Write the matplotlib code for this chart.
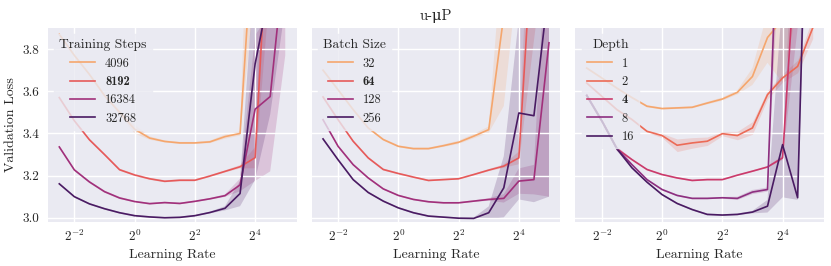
import matplotlib
matplotlib.use("Agg")
import numpy as np
import matplotlib.pyplot as plt
from matplotlib.lines import Line2D
from matplotlib.ticker import NullLocator
from matplotlib.font_manager import FontProperties

# ---------------- data ----------------
lr_exp = [-2.5, -2, -1.5, -1, -0.5, 0, 0.5, 1, 1.5, 2, 2.5, 3, 3.5, 4, 4.5, 5]

# Panel 1: training steps
steps_labels = ["4096", "8192", "16384", "32768"]
steps_mean = [
    [3.87, 3.77, 3.68, 3.58, 3.50, 3.42, 3.378, 3.362, 3.355, 3.355, 3.36, 3.385, 3.40, 4.5, 7.0, 7.0],
    [3.57, 3.46, 3.37, 3.30, 3.228, 3.203, 3.185, 3.173, 3.178, 3.178, 3.198, 3.22, 3.242, 3.285, 4.6, 6.0],
    [3.336, 3.227, 3.17, 3.124, 3.094, 3.077, 3.067, 3.072, 3.068, 3.078, 3.09, 3.105, 3.156, 3.515, 3.575, 4.27],
    [3.161, 3.10, 3.066, 3.043, 3.024, 3.01, 3.004, 3.0, 3.002, 3.01, 3.025, 3.045, 3.115, 3.73, 4.09, 4.5],
]
steps_err_lo = [
    [.004, .004, .004, .004, .01, .02, .008, .005, .005, .005, .006, .01, .01, .4, .5, .5],
    [.005, .005, .005, .005, .005, .005, .005, .005, .005, .005, .005, .005, .008, .05, .5, .5],
    [.005, .005, .005, .005, .005, .004, .004, .004, .004, .004, .004, .006, .03, .34, .355, .5],
    [.004, .004, .004, .004, .004, .004, .004, .004, .004, .004, .004, .01, .06, .55, .6, .5],
]
steps_err_hi = [
    [.004, .004, .004, .004, .01, .02, .008, .005, .005, .005, .006, .01, .01, 1.0, .5, .5],
    [.005, .005, .005, .005, .005, .005, .005, .005, .005, .005, .005, .005, .008, .05, .5, .5],
    [.005, .005, .005, .005, .005, .004, .004, .004, .004, .004, .004, .006, .03, .35, .4, .5],
    [.004, .004, .004, .004, .004, .004, .004, .004, .004, .004, .004, .01, .06, .5, .5, .5],
]

# Panel 2: batch size
bs_labels = ["32", "64", "128", "256"]
bs_mean = [
    [3.70, 3.607, 3.513, 3.426, 3.371, 3.339, 3.328, 3.328, 3.342, 3.358, 3.387, 3.418, 3.96, 5.0, 6.0, 6.5],
    [3.573, 3.465, 3.363, 3.284, 3.229, 3.21, 3.193, 3.177, 3.181, 3.185, 3.205, 3.226, 3.245, 3.284, 4.44, 5.0],
    [3.465, 3.339, 3.252, 3.189, 3.137, 3.106, 3.087, 3.076, 3.071, 3.071, 3.079, 3.087, 3.092, 3.174, 3.181, 3.83],
    [3.374, 3.275, 3.181, 3.12, 3.079, 3.047, 3.024, 3.008, 3.003, 2.998, 2.997, 3.024, 3.142, 3.497, 3.484, 4.1],
]
bs_err_lo = [
    [.005, .005, .005, .005, .005, .005, .005, .005, .006, .008, .01, .015, .43, .8, .8, .8],
    [.005, .005, .005, .005, .005, .004, .004, .004, .004, .004, .004, .005, .008, .03, .6, .6],
    [.005, .005, .004, .004, .004, .004, .004, .004, .004, .004, .004, .006, .02, .06, .07, .73],
    [.005, .005, .004, .004, .004, .004, .004, .004, .004, .004, .004, .03, .14, .41, .41, 1.0],
]
bs_err_hi = [
    [.005, .005, .005, .005, .005, .005, .005, .005, .006, .008, .01, .015, .4, .8, .8, .8],
    [.005, .005, .005, .005, .005, .004, .004, .004, .004, .004, .004, .005, .008, .03, .6, .6],
    [.005, .005, .004, .004, .004, .004, .004, .004, .004, .004, .004, .006, .02, .06, .07, .7],
    [.005, .005, .004, .004, .004, .004, .004, .004, .004, .004, .004, .03, .15, .45, .5, 1.0],
]

# Panel 3: depth
depth_labels = ["1", "2", "4", "8", "16"]
depth_mean = [
    [3.71, 3.663, 3.615, 3.57, 3.529, 3.518, 3.521, 3.524, 3.544, 3.563, 3.595, 3.67, 3.855, 3.94, 4.3, 4.6],
    [3.639, 3.576, 3.513, 3.466, 3.41, 3.39, 3.344, 3.355, 3.363, 3.399, 3.39, 3.426, 3.584, 3.663, 3.718, 3.90],
    [3.58, 3.46, 3.328, 3.276, 3.229, 3.205, 3.189, 3.177, 3.181, 3.181, 3.202, 3.221, 3.241, 3.284, 4.4, 5.0],
    [3.58, 3.46, 3.328, 3.252, 3.181, 3.134, 3.106, 3.092, 3.092, 3.095, 3.092, 3.122, 3.134, 5.05, 5.5, 5.5],
    [3.58, 3.46, 3.328, 3.237, 3.169, 3.11, 3.068, 3.039, 3.016, 3.013, 3.016, 3.027, 3.055, 3.347, 3.095, 5.7],
]
depth_err_lo = [
    [.005, .005, .005, .005, .005, .005, .005, .005, .006, .008, .01, .04, .12, .3, .3, .3],
    [.005, .005, .005, .005, .005, .01, .03, .025, .02, .01, .02, .03, .02, .02, .03, .05],
    [.01, .01, .01, .004, .004, .004, .004, .004, .004, .004, .004, .004, .004, .01, .5, .5],
    [.01, .01, .01, .004, .004, .004, .004, .004, .004, .004, .008, .01, .01, .5, .5, .5],
    [.01, .01, .01, .004, .004, .004, .004, .004, .004, .004, .004, .006, .03, .25, .01, .5],
]
depth_err_hi = [
    [.005, .005, .005, .005, .005, .005, .005, .005, .006, .008, .01, .04, .12, .3, .3, .3],
    [.005, .005, .005, .005, .005, .01, .03, .025, .02, .01, .02, .03, .02, .02, .03, .05],
    [.01, .01, .01, .004, .004, .004, .004, .004, .004, .004, .004, .004, .004, .01, .5, .5],
    [.01, .01, .01, .004, .004, .004, .004, .004, .004, .004, .008, .01, .01, .5, .5, .5],
    [.01, .01, .01, .004, .004, .004, .004, .004, .004, .004, .004, .006, .03, .7, .9, .5],
]

colors4 = ["#f5a66d", "#e65a5a", "#a1307b", "#4a1b63"]
colors5 = ["#f5a66d", "#ec6b57", "#cb3a6b", "#8d2f80", "#4a1b63"]

panels = [
    ("Training Steps", steps_labels, steps_mean, steps_err_lo, steps_err_hi, colors4, 1),
    ("Batch Size", bs_labels, bs_mean, bs_err_lo, bs_err_hi, colors4, 1),
    ("Depth", depth_labels, depth_mean, depth_err_lo, depth_err_hi, colors5, 2),
]

# ---------------- style ----------------
plt.rcParams.update({
    "font.family": "serif",
    "font.serif": ["cmr10"],
    "mathtext.fontset": "cm",
    "axes.formatter.use_mathtext": True,
    "axes.unicode_minus": False,
    "axes.facecolor": "#EAEAF2",
    "axes.edgecolor": "white",
    "axes.grid": True,
    "grid.color": "white",
    "grid.linewidth": 1.0,
    "text.color": "#262626",
    "axes.labelcolor": "#262626",
    "xtick.color": "#262626",
    "ytick.color": "#262626",
    "xtick.major.size": 0,
    "ytick.major.size": 0,
    "xtick.minor.size": 0,
    "ytick.minor.size": 0,
    "xtick.major.pad": 4.5,
    "ytick.major.pad": 6.0,
    "xtick.labelsize": 9.5,
    "ytick.labelsize": 9.5,
    "axes.labelsize": 10,
})

fig, axes = plt.subplots(1, 3, figsize=(8.31, 2.66), dpi=100, sharey=True)
fig.subplots_adjust(left=48 / 831, right=824 / 831, top=1 - 28 / 266, bottom=1 - 222 / 266, wspace=0.061)

lr = 2.0 ** np.array(lr_exp)
bold_fp = FontProperties(family="cmb10", size=9)

for ax, (title, labels, means, lo, hi, cols, bold_idx) in zip(axes, panels):
    handles = []
    for lab, m, el, eh, c in zip(labels, means, lo, hi, cols):
        m = np.array(m)
        ax.fill_between(lr, m - np.array(el), m + np.array(eh), color=c, alpha=0.2, linewidth=0)
        ax.plot(lr, m, color=c, lw=1.2)
        handles.append(Line2D([], [], color=c, lw=1.2))
    for s in ax.spines.values():
        s.set_visible(False)
    ax.set_xscale("log", base=2)
    ax.set_xlim(2 ** -2.875, 2 ** 5.375)
    ax.set_ylim(2.98, 3.9)
    ax.set_xticks([2 ** -2, 2 ** 0, 2 ** 2, 2 ** 4])
    ax.set_xticklabels([r"$2^{-2}$", r"$2^{0}$", r"$2^{2}$", r"$2^{4}$"])
    ax.xaxis.set_minor_locator(NullLocator())
    ax.set_yticks([3.0, 3.2, 3.4, 3.6, 3.8])
    ax.set_xlabel("Learning Rate")
    ax.tick_params(axis="both", which="both", length=0)
    leg = ax.legend(handles, labels, title=title, loc="upper left", fontsize=9,
                    title_fontsize=9.7, framealpha=0.8, facecolor="#EAEAF2",
                    edgecolor="#EAEAF2")
    leg.get_texts()[bold_idx].set_fontproperties(bold_fp)

axes[0].set_ylabel("Validation Loss")
axes[0].set_yticklabels(["3.0", "3.2", "3.4", "3.6", "3.8"])
for ax in axes[1:]:
    ax.tick_params(axis="y", labelleft=False)

axes[1].set_title("u-\u03bcP", fontsize=10.5, family=["cmr10", "DejaVu Serif"])

fig.savefig("out.png", dpi=100)
